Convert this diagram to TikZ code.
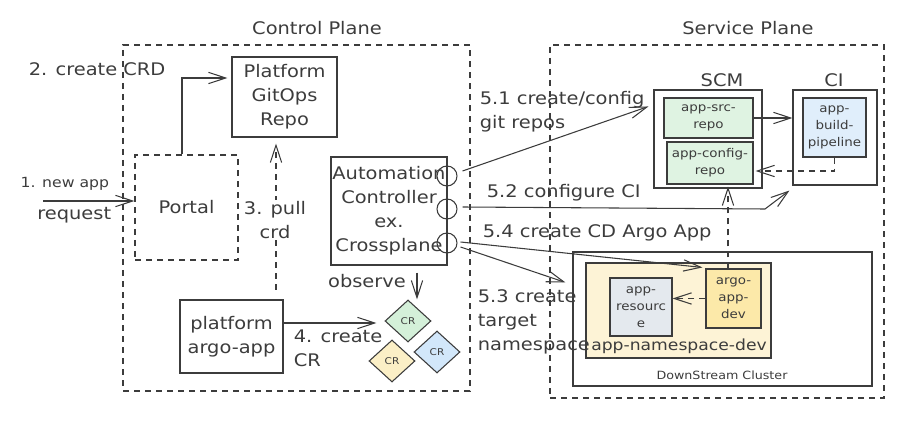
\documentclass[tikz,border=0pt]{standalone}
\usepackage{fontspec}
\setmainfont{DejaVu Sans}[FakeStretch=1.12]
\usetikzlibrary{arrows.meta,shapes.geometric,calc}
\definecolor{ink}{HTML}{3C3C3C}
\definecolor{greenfill}{HTML}{DFF3E2}
\definecolor{crgreen}{HTML}{D4F0D9}
\definecolor{bluefill}{HTML}{E0EEFB}
\definecolor{crblue}{HTML}{D2E7FA}
\definecolor{cryellow}{HTML}{FBEFC6}
\definecolor{nsfill}{HTML}{FDF3D6}
\definecolor{argofill}{HTML}{FCE9A9}
\definecolor{resfill}{HTML}{E4E9EE}
\tikzset{
  big/.style={font=\fontsize{13}{18}\selectfont, align=center, inner sep=1pt},
  small/.style={font=\fontsize{9}{12.75}\selectfont, align=center, inner sep=1pt},
  box/.style 2 args={draw, rectangle, inner sep=0pt, minimum width=#1*0.75pt, minimum height=#2*0.75pt},
  dashbox/.style={dash pattern=on 4.5pt off 3.75pt},
  dline/.style={dash pattern=on 4.5pt off 3.75pt},
  arr/.style={-{Straight Barb[length=13pt,width=8.5pt,line width=0.8pt]}},
  port/.style={draw, circle, inner sep=0pt, minimum size=15pt},
  crd/.style={draw, diamond, inner sep=0pt, minimum width=46*0.75pt, minimum height=42*0.75pt, font=\fontsize{7}{8}\selectfont},
}
\begin{document}
\begin{tikzpicture}[x=0.75pt, y=-0.75pt, line width=0.8pt, color=ink]
\useasboundingbox (0,0) rectangle (901,424);

% titles
\node[big] (cpt) at (317,28) {Control Plane};
\node[big] (spt) at (748,28) {Service Plane};

% plane frames
\node[box={347}{346}, dashbox] (cp) at (296.5,218) {};
\node[box={334}{353}, dashbox] (sp) at (717,221.5) {};

% control plane nodes
\node[box={103}{105}, dashbox, big] (portal) at (186.5,207.5) {Portal};
\node[box={105}{80}, big] (gitops) at (284.5,97) {Platform\\GitOps\\Repo};
\node[box={116}{108}, big] (auto) at (389,211) {Automation\\Controller\\ex.\\Crossplane};
\node[port] (p1) at (447,176) {};
\node[port] (p2) at (447,209) {};
\node[port] (p3) at (447,243) {};
\node[box={103}{73}, big] (pa) at (231.5,336.5) {platform\\argo-app};
\node[crd, fill=crgreen] (crg) at (408,321) {CR};
\node[crd, fill=cryellow] (cry) at (392,361) {CR};
\node[crd, fill=crblue] (crb) at (437,352) {CR};

% service plane nodes
\node[big] (scml) at (722,80) {SCM};
\node[big] (cil) at (834,80) {CI};
\node[box={108}{98}] (scm) at (708,139) {};
\node[box={89}{40}, small, fill=greenfill] (src) at (708.5,118) {app-src-\\repo};
\node[box={86}{42}, small, fill=greenfill] (cfg) at (710,163) {app-config-\\repo};
\node[box={84}{95}] (ci) at (835,137.5) {};
\node[box={63}{59}, small, fill=bluefill] (pipe) at (834.5,127.5) {app-\\build-\\pipeline};
\node[box={299}{134}] (ds) at (722.5,319) {};
\node[font=\fontsize{8.5}{10}\selectfont] (dsl) at (722,375) {DownStream Cluster};
\node[box={185}{95}, fill=nsfill] (ns) at (678.5,310.5) {};
\node[font=\fontsize{11.5}{13}\selectfont] (nsl) at (679,346) {app-namespace-dev};
\node[box={62}{58}, small, fill=resfill] (res) at (641,307) {app-\\resourc\\e};
\node[box={55}{59}, small, fill=argofill] (argo) at (733.5,298.5) {argo-\\app-\\dev};

% free coordinates
\coordinate (in1) at (43,201);
\coordinate (c3) at (276,290);
\coordinate (k52) at (765,209);

% connectors
\draw[arr] (in1) -- (in1 -| portal.west);
\draw[arr] ([shift={(-4.5,0)}]portal.north) |- ([shift={(-4,-19)}]gitops.west);
\draw[arr, dline] (c3) -- ([shift={(-8.5,6)}]gitops.south);
\draw[arr] ([shift={(0,-13.5)}]pa.east) -- ([shift={(-8,2)}]crg.west);
\draw[arr] ([shift={(28,7)}]auto.south) -- ([shift={(9,0)}]crg.north);
\draw[arr] ([shift={(5,-5)}]p1.east) -- ([shift={(-5,17)}]scm.north west);
\draw[arr] ([shift={(5,-2)}]p2.east) -- (k52) -- ([shift={(-3,5)}]ci.south west);
\draw[arr] ([shift={(3,-1)}]p3.east) -- ([shift={(-3,-1)}]argo.north west);
\draw[arr] ([shift={(3,4)}]p3.east) -- ([shift={(-7,31)}]ds.north west);
\draw[arr] (src.east) -- (src.east -| ci.west);
\draw[arr, dline] (pipe.south) |- ([shift={(2,8)}]cfg.east);
\draw[arr, dline] ([shift={(-5.5,0)}]argo.north) -- ([shift={(18,2)}]cfg.south);
\draw[arr, dline] (argo.west) -- (argo.west -| res.east);

% labels
\node[big, anchor=west] (l2) at (27,69) {2. create CRD};
\node[font=\fontsize{10.5}{12}\selectfont, anchor=east, inner sep=1pt] (l1a) at (111,184) {1. new app};
\node[big, anchor=east] (l1b) at (113,215) {request};
\node[big, fill=white] (l3) at (275,220) {3. pull\\crd};
\node[big, align=left, anchor=west] (l4) at (292,348) {4. create\\CR};
\node[big] (lobs) at (367,281) {observe};
\node[big, align=left, anchor=west] (l51) at (478,112) {5.1 create/config\\git repos};
\node[big, anchor=west] (l52) at (485,193) {5.2 configure CI};
\node[big, anchor=west] (l54) at (481,233) {5.4 create CD Argo App};
\node[big, align=left, anchor=west] (l53) at (476,322) {5.3 create\\target\\namespace};
\end{tikzpicture}
\end{document}
